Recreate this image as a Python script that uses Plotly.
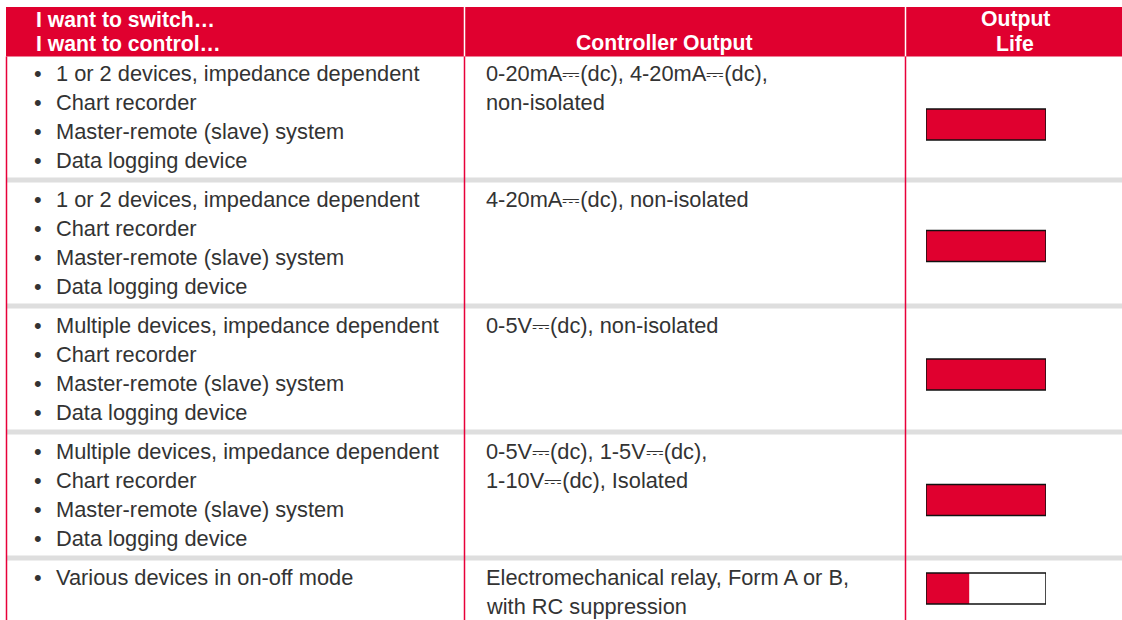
import plotly.graph_objects as go

# ---------------- data ----------------
header_col1 = ["I want to switch…", "I want to control…"]
header_col2 = ["Controller Output"]
header_col3 = ["Output", "Life"]

switch_items = [
    ["1 or 2 devices, impedance dependent", "Chart recorder",
     "Master-remote (slave) system", "Data logging device"],
    ["1 or 2 devices, impedance dependent", "Chart recorder",
     "Master-remote (slave) system", "Data logging device"],
    ["Multiple devices, impedance dependent", "Chart recorder",
     "Master-remote (slave) system", "Data logging device"],
    ["Multiple devices, impedance dependent", "Chart recorder",
     "Master-remote (slave) system", "Data logging device"],
    ["Various devices in on-off mode"],
]

controller_output = [
    ["0-20mA⎓(dc), 4-20mA⎓(dc),", "non-isolated"],
    ["4-20mA⎓(dc), non-isolated"],
    ["0-5V⎓(dc), non-isolated"],
    ["0-5V⎓(dc), 1-5V⎓(dc),", "1-10V⎓(dc), Isolated"],
    ["Electromechanical relay, Form A or B,", "with RC suppression"],
]

output_life = [1.0, 1.0, 1.0, 1.0, 0.36]

# ---------------- layout constants ----------------
W, H = 1122, 620
RED = "#E0002F"
LINE_RED = "#E8003A"
SEP_GRAY = "#DEDEDE"
TEXT = "#333333"
FONT = "Liberation Sans, Arial, Helvetica, sans-serif"

LEFT = 6.5
COL2_X = 464.5
COL3_X = 905.5
HEAD_TOP = 7
HEAD_BOT = 56.5
ROW_H = 121
SEP_H = 5
LINE_STEP = 29.3
FIRST_LINE_DY = 16.5
BAR_OFFSET = [68, 63.5, 66, 65.5, 28]
BAR_THICK = 31

BODY_FS = 21.8
HEAD_FS = 21.2

row_tops = [HEAD_BOT + i * (ROW_H + SEP_H) for i in range(len(switch_items))]

fig = go.Figure()

shapes = []
# header band
shapes.append(dict(type="rect", xref="x", yref="y", x0=LEFT - 0.5, x1=W, y0=HEAD_TOP, y1=HEAD_BOT,
                   fillcolor=RED, line=dict(width=0), layer="below"))
# header white dividers
for xv in (COL2_X, COL3_X):
    shapes.append(dict(type="line", xref="x", yref="y", x0=xv, x1=xv, y0=HEAD_TOP, y1=HEAD_BOT,
                       line=dict(color="white", width=1.5), layer="below"))
# gray row separators
for top in row_tops[1:]:
    shapes.append(dict(type="rect", xref="x", yref="y", x0=LEFT, x1=W, y0=top - SEP_H, y1=top,
                       fillcolor=SEP_GRAY, line=dict(width=0), layer="below"))
# red vertical body lines
for xv in (LEFT, COL2_X, COL3_X):
    shapes.append(dict(type="line", xref="x", yref="y", x0=xv, x1=xv, y0=HEAD_BOT, y1=H,
                       line=dict(color=LINE_RED, width=1.5), layer="below"))

ann = []


def add_text(x, y, s, size, color=TEXT, bold=False, xanchor="left"):
    ann.append(dict(x=x, y=y, xref="x", yref="y", text=s, showarrow=False,
                    xanchor=xanchor, yanchor="middle",
                    font=dict(family=FONT, size=size, color=color,
                              weight="bold" if bold else "normal")))


# header texts
for k, s in enumerate(header_col1):
    add_text(34, 19 + k * 24, s, HEAD_FS, color="white", bold=True)
add_text(664, 43, header_col2[0], HEAD_FS, color="white", bold=True, xanchor="center")
for k, s in enumerate(header_col3):
    add_text(1015, 19 + k * 24, s, HEAD_FS, color="white", bold=True, xanchor="center")

# body texts
for i, top in enumerate(row_tops):
    for k, s in enumerate(switch_items[i]):
        y = top + FIRST_LINE_DY + k * LINE_STEP
        add_text(37.5, y, "•", BODY_FS, xanchor="center")
        add_text(54, y, s, BODY_FS)
    for k, s in enumerate(controller_output[i]):
        y = top + FIRST_LINE_DY + k * LINE_STEP
        add_text(484, y, s, BODY_FS)

# output life bars
bar_y = [row_tops[i] + BAR_OFFSET[i] for i in range(len(output_life))]
fig.add_trace(go.Bar(x=output_life, y=bar_y, orientation="h", width=BAR_THICK,
                     marker=dict(color=RED, line=dict(width=0)),
                     xaxis="x2", yaxis="y2", hoverinfo="skip", showlegend=False))
fig.add_trace(go.Bar(x=[1.0] * len(output_life), y=bar_y, orientation="h", width=BAR_THICK,
                     marker=dict(color="rgba(0,0,0,0)", line=dict(color="#111111", width=1.5)),
                     xaxis="x2", yaxis="y2", hoverinfo="skip", showlegend=False))

fig.update_layout(
    width=W, height=H,
    margin=dict(l=0, r=0, t=0, b=0),
    paper_bgcolor="white", plot_bgcolor="rgba(0,0,0,0)",
    barmode="overlay",
    showlegend=False,
    xaxis=dict(range=[0, W], visible=False, fixedrange=True, domain=[0, 1]),
    yaxis=dict(range=[H, 0], visible=False, fixedrange=True, domain=[0, 1]),
    xaxis2=dict(range=[0, 1], visible=False, fixedrange=True,
                domain=[926 / W, 1046 / W], anchor="y2"),
    yaxis2=dict(range=[H, 0], visible=False, fixedrange=True, domain=[0, 1], anchor="x2"),
    shapes=shapes,
    annotations=ann,
)

fig.write_html("out.html", config={"displayModeBar": False},
               post_script="document.body.style.margin='0';document.body.style.overflow='hidden';")
